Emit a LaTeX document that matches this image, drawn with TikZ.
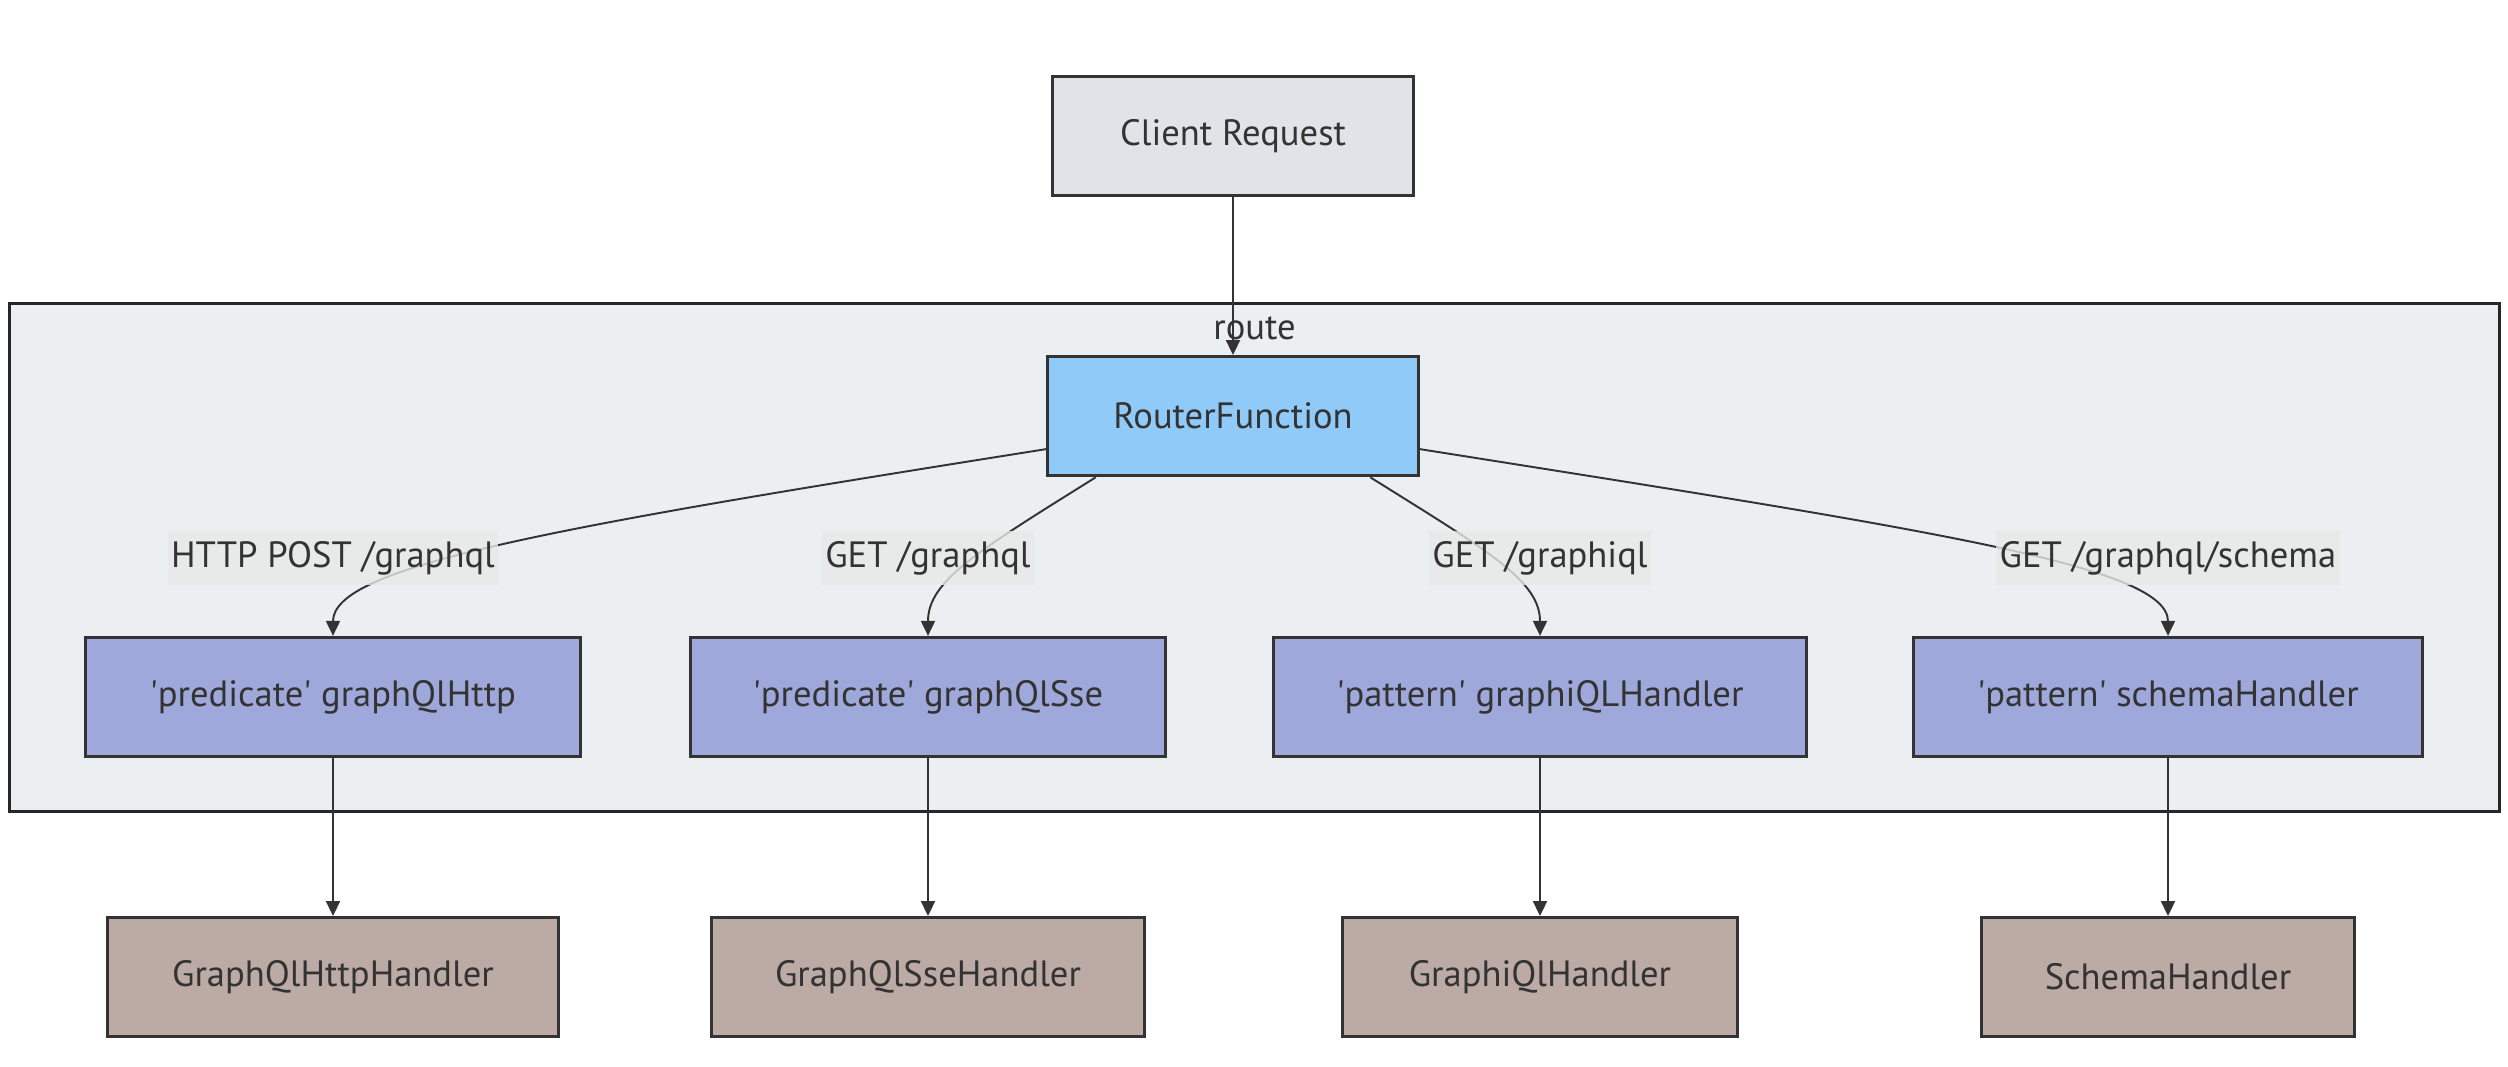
\documentclass[tikz,border=0pt]{standalone}
\usepackage{fontspec}
\setmainfont{PT Sans}
\usetikzlibrary{positioning,arrows.meta}
\definecolor{clientbg}{HTML}{E0E3E7}
\definecolor{routebg}{HTML}{ECEFF1}
\definecolor{routerbg}{HTML}{90CAF9}
\definecolor{predbg}{HTML}{9FA8DA}
\definecolor{handlerbg}{HTML}{BCAAA4}
\definecolor{labelbg}{HTML}{E8E8E8}
\definecolor{ink}{HTML}{333333}
\pgfdeclarelayer{bg}
\pgfdeclarelayer{edges}
\pgfsetlayers{bg,edges,main}
\newcommand{\sq}{\textquotesingle}

\begin{document}
\begin{tikzpicture}[x=0.01cm,y=0.01cm,node distance=2.8cm,on grid,
      font=\fontsize{10.4}{12}\selectfont,text=ink,
      box/.style={draw=ink,line width=0.9pt,minimum height=1.19cm,inner sep=0pt},
      client/.style={box,fill=clientbg,minimum width=3.6cm},
      router/.style={box,fill=routerbg,minimum width=3.7cm},
      pred/.style={box,fill=predbg},
      handler/.style={box,fill=handlerbg},
      elabel/.style={fill=labelbg,fill opacity=0.8,text opacity=1,inner xsep=1pt,inner ysep=0.1cm},
      edge/.style={draw=ink,line width=0.55pt,-{Triangle[length=0.15cm,width=0.14cm]}}]
  \useasboundingbox (0,0) rectangle (2508,-1066);
			\node[client] (cr) at (1233,-136) {Client Request};
			\node[router] (rf) [below of=cr] {RouterFunction};
      % predicates and patterns
			\node[pred,minimum width=4.95cm] (p1) at (333,-697) {\sq predicate\sq\ graphQlHttp};
			\node[pred,minimum width=4.75cm] (p2) at (928,-697) {\sq predicate\sq\ graphQlSse};
			\node[pred,minimum width=5.32cm] (p3) at (1540,-697) {\sq pattern\sq\ graphiQLHandler};
			\node[pred,minimum width=5.08cm] (p4) at (2168,-697) {\sq pattern\sq\ schemaHandler};
      % handlers
			\node[handler,minimum width=4.51cm] (h1) [below of=p1] {GraphQlHttpHandler};
			\node[handler,minimum width=4.32cm] (h2) [below of=p2] {GraphQlSseHandler};
			\node[handler,minimum width=3.94cm] (h3) [below of=p3] {GraphiQlHandler};
			\node[handler,minimum width=3.73cm] (h4) [below of=p4] {SchemaHandler};
      % edge labels
			\node[elabel] (l1) at (333,-558) {HTTP POST /graphql};
			\node[elabel] (l2) at (928,-558) {GET /graphql};
			\node[elabel] (l3) at (1540,-558) {GET /graphiql};
			\node[elabel] (l4) at (2168,-558) {GET /graphql/schema};
      \begin{pgfonlayer}{bg}
			\node[draw=black!85,line width=0.9pt,fill=routebg,minimum width=24.89cm,
        minimum height=5.07cm,inner sep=0pt] (route) at (1254.5,-557.5) {};
			\node[anchor=north,inner sep=0pt,yshift=-0.14cm] (routelbl) at (route.north) {route};
      \end{pgfonlayer}
      \begin{pgfonlayer}{edges}
			\draw[edge] (cr) -- (rf);
			\draw[edge] (rf.190) to[out=189,in=90,out distance=5cm,in distance=0.7cm] (p1.north);
			\draw[edge] (rf.204) to[out=212,in=90,out distance=1.4cm,in distance=0.55cm] (p2.north);
			\draw[edge] (rf.336) to[out=-32,in=90,out distance=1.4cm,in distance=0.55cm] (p3.north);
			\draw[edge] (rf.350) to[out=-9,in=90,out distance=5.2cm,in distance=0.7cm] (p4.north);
			\foreach \i in {1,...,4}
        \draw[edge] (p\i) -- (h\i);
      \end{pgfonlayer}
		\end{tikzpicture}
\end{document}
